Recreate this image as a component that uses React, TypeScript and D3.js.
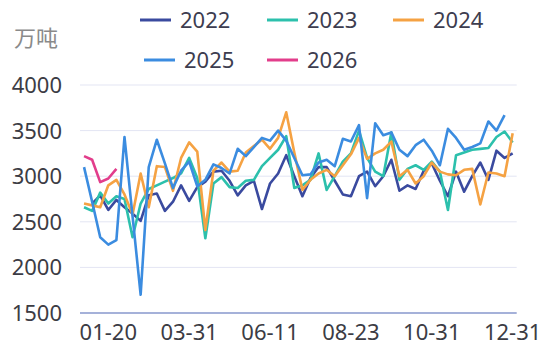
import React, { useEffect, useRef } from 'react';
import * as d3 from 'd3';

// week labels (month-day), one per category
const categories = [
  '01-01', '01-06', '01-13', '01-20', '01-27', '02-03', '02-10', '02-17', '02-24', '03-03',
  '03-10', '03-17', '03-24', '03-31', '04-07', '04-14', '04-21', '04-28', '05-05', '05-12',
  '05-19', '05-26', '06-02', '06-11', '06-18', '06-25', '07-02', '07-09', '07-16', '07-23',
  '07-30', '08-06', '08-15', '08-23', '08-30', '09-06', '09-13', '09-20', '09-27', '10-04',
  '10-11', '10-18', '10-25', '10-31', '11-07', '11-14', '11-21', '11-28', '12-05', '12-12',
  '12-19', '12-24', '12-27', '12-31',
];

const xTickLabels = ['01-20', '03-31', '06-11', '08-23', '10-31', '12-31'];
const yTicks = [1500, 2000, 2500, 3000, 3500, 4000];

const s2022: (number | null)[] = [
  null, 2700, 2790, 2630, 2740, 2660, 2590, 2510, 2790, 2810,
  2620, 2720, 2900, 2730, 2880, 2940, 3050, 3060, 2950, 2790,
  2900, 2950, 2640, 2920, 3030, 3230, 3000, 2780, 2980, 3100,
  3100, 2950, 2800, 2780, 3000, 3050, 2890, 3000, 3180, 2840,
  2900, 2860, 3060, 3140, 2950, 2780, 3050, 2830, 3000, 3150,
  2960, 3280, 3200, 3250,
];

const s2023: (number | null)[] = [
  2660, 2620, 2820, 2700, 2780, 2750, 2330, 2700, 2860, 2900,
  2940, 2980, 3030, 3200, 2980, 2320, 2920, 2990, 2880, 2870,
  2950, 2960, 3110, 3200, 3290, 3440, 2870, 2900, 2960, 3250,
  2850, 3000, 3160, 3250, 3500, 3200, 3050, 3000, 3480, 2960,
  3080, 3120, 3070, 3160, 3050, 2630, 3230, 3260, 3290, 3300,
  3310, 3430, 3490, 3370,
];

const s2024: (number | null)[] = [
  2700, 2680, 2660, 2900, 2960, 2800, 2580, 3030, 2660, 3110,
  3100, 2840, 3200, 3370, 3270, 2410, 3060, 3150, 3050, 3060,
  3260, 3330, 3400, 3300, 3420, 3700, 3260, 2850, 2960, 3030,
  3070, 3000, 3120, 3240, 3420, 3190, 3250, 3290, 3380, 3000,
  3070, 2920, 3000, 3150, 3050, 3020, 3010, 3070, 3080, 2690,
  3040, 3030, 3000, 3470,
];

const s2025: (number | null)[] = [
  3100, 2720, 2330, 2250, 2300, 3430, 2560, 1700, 3100, 3400,
  3140, 2870, 3060, 3160, 2890, 2960, 3130, 3090, 3030, 3300,
  3220, 3320, 3420, 3390, 3500, 3390, 3200, 3010, 3020, 3150,
  3180, 3110, 3410, 3380, 3560, 2760, 3580, 3450, 3480, 3290,
  3220, 3340, 3400, 3280, 3120, 3520, 3420, 3290, 3320, 3360,
  3600, 3500, 3670, null,
];

const s2026: (number | null)[] = [3220, 3180, 2935, 2975, 3080];

const seriesNames = ['2022', '2023', '2024', '2025', '2026'];
const seriesColors = ['#3a4a9f', '#2cc0ac', '#f5a243', '#3b8ce0', '#e23d8b'];
const seriesData = [s2022, s2023, s2024, s2025, s2026];

const App: React.FC = () => {
  const svgRef = useRef<SVGSVGElement>(null);
  const width = 550;
  const height = 354;

  useEffect(() => {
    if (!svgRef.current) return;
    const svg = d3.select(svgRef.current);
    svg.selectAll('*').remove();

    const left = 80, right = 516.7, top = 85, bottom = 313;

    const x = d3.scaleBand<string>()
      .domain(categories)
      .range([left, right])
      .paddingInner(0)
      .paddingOuter(0);
    const cx = (i: number) => (x(categories[i]) || 0) + x.bandwidth() / 2;

    const y = d3.scaleLinear().domain([1500, 4000]).range([bottom, top]);

    // grid lines
    svg.append('g')
      .selectAll('line')
      .data(yTicks.filter(t => t > 1500))
      .enter()
      .append('line')
      .attr('x1', left)
      .attr('x2', right)
      .attr('y1', d => y(d))
      .attr('y2', d => y(d))
      .attr('stroke', '#e3e5f3')
      .attr('stroke-width', 1);

    // x axis line
    svg.append('line')
      .attr('x1', left)
      .attr('x2', right)
      .attr('y1', y(1500))
      .attr('y2', y(1500))
      .attr('stroke', '#8797cc')
      .attr('stroke-width', 1.5);

    // y labels
    svg.append('g')
      .selectAll('text')
      .data(yTicks)
      .enter()
      .append('text')
      .attr('x', 62)
      .attr('y', d => y(d))
      .attr('dy', '0.36em')
      .attr('text-anchor', 'end')
      .style('font-family', '"Noto Sans", "Open Sans", sans-serif')
      .style('font-size', '22px')
      .style('fill', '#3c3c44')
      .text(d => String(d));

    // x labels
    svg.append('g')
      .selectAll('text')
      .data(xTickLabels)
      .enter()
      .append('text')
      .attr('x', d => cx(categories.indexOf(d)))
      .attr('y', 340)
      .attr('text-anchor', 'middle')
      .style('font-family', '"Noto Sans", "Open Sans", sans-serif')
      .style('font-size', '22px')
      .style('fill', '#3c3c44')
      .text(d => d);

    // unit
    svg.append('text')
      .attr('x', 14)
      .attr('y', 46)
      .style('font-family', '"Noto Sans CJK SC", sans-serif')
      .style('font-size', '22px')
      .style('fill', '#8a8a8a')
      .text('万吨');

    // lines
    const line = d3.line<number | null>()
      .defined(d => d != null)
      .x((_, i) => cx(i))
      .y(d => y(d as number));

    seriesData.forEach((data, k) => {
      svg.append('path')
        .datum(data)
        .attr('d', line)
        .attr('fill', 'none')
        .attr('stroke', seriesColors[k])
        .attr('stroke-width', 2.6)
        .attr('stroke-linejoin', 'round');
    });

    // legend
    const legendPos = [
      { x: 140, y: 20 }, { x: 267, y: 20 }, { x: 393, y: 20 },
      { x: 144, y: 60 }, { x: 267, y: 60 },
    ];
    const legend = svg.append('g');
    seriesNames.forEach((name, k) => {
      const p = legendPos[k];
      legend.append('line')
        .attr('x1', p.x)
        .attr('x2', p.x + 31)
        .attr('y1', p.y)
        .attr('y2', p.y)
        .attr('stroke', seriesColors[k])
        .attr('stroke-width', 3);
      legend.append('text')
        .attr('x', p.x + 40)
        .attr('y', p.y)
        .attr('dy', '0.36em')
        .style('font-family', '"Noto Sans", "Open Sans", sans-serif')
        .style('font-size', '22px')
        .style('fill', '#3d3d4f')
        .text(name);
    });
  }, []);

  return (
    <svg
      ref={svgRef}
      width={width}
      height={height}
      style={{ position: 'absolute', left: 0, top: 0, background: '#fff' }}
    ></svg>
  );
};

export default App;
